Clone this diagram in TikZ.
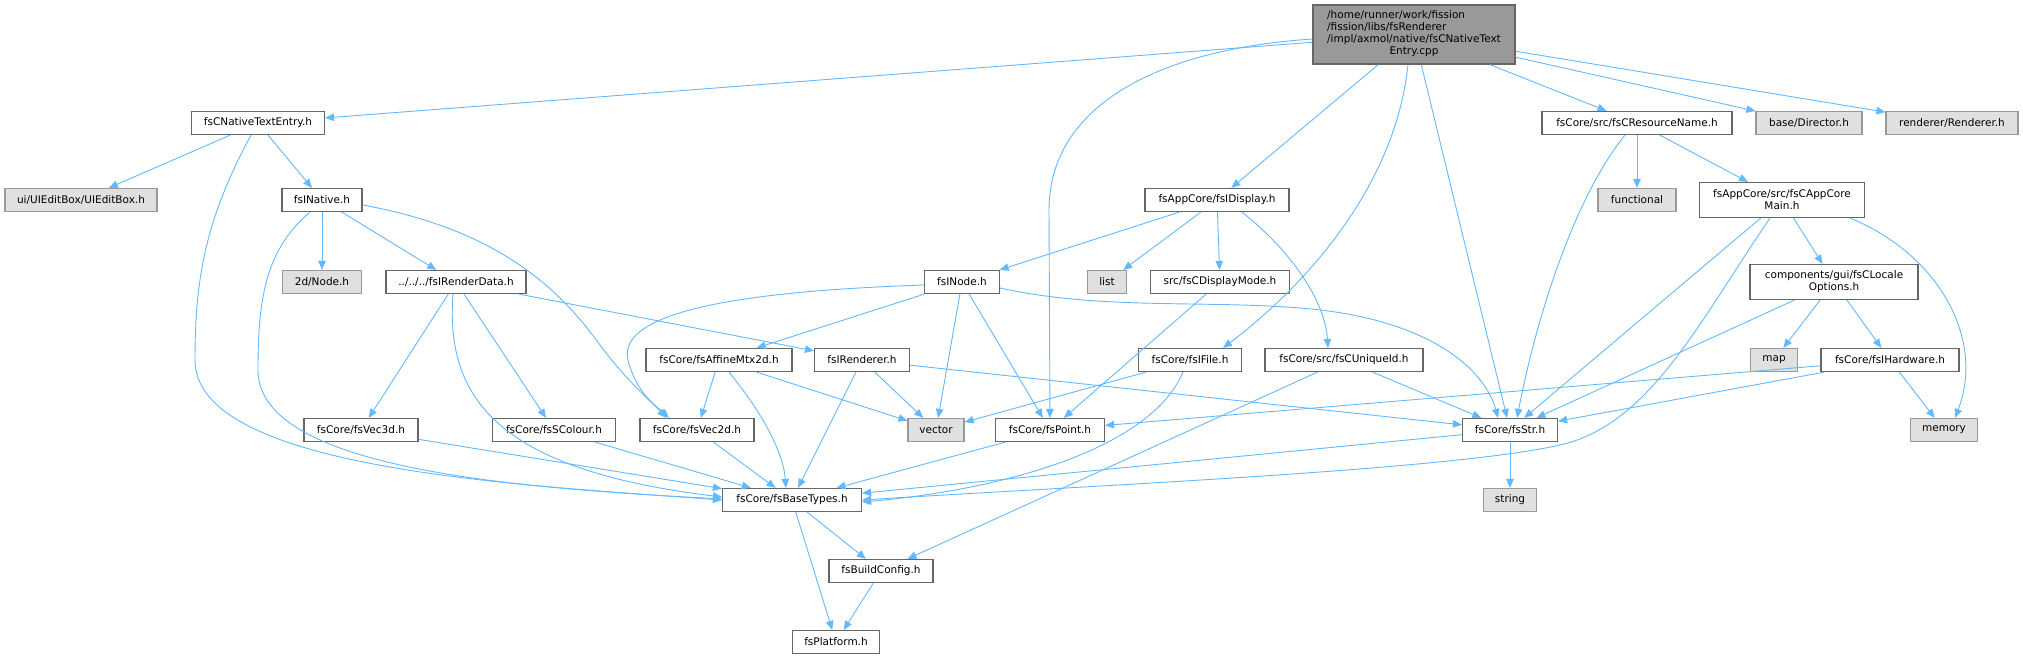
\documentclass[tikz,border=0pt]{standalone}
\usepackage{fontspec}
\setmainfont{DejaVu Sans}
\usetikzlibrary{arrows.meta}
\definecolor{edgeblue}{HTML}{63B8FF}
\definecolor{boxline}{HTML}{666666}
\definecolor{extline}{HTML}{999999}
\definecolor{extfill}{HTML}{E0E0E0}
\definecolor{mainfill}{HTML}{999999}
\tikzset{
  hdr/.style={draw=boxline, fill=white, line width=1.2pt, minimum height=23pt, inner sep=0pt, font=\fontsize{10.5}{12}\selectfont},
  ext/.style={hdr, draw=extline, fill=extfill},
  inc/.style={draw=edgeblue, line width=0.9pt, -{Triangle[length=9pt,width=7.5pt]}}
}
\begin{document}
\begin{tikzpicture}[x=1pt,y=-1pt]
  \useasboundingbox (0,0) rectangle (2023,659);
  % nodes
  \node [hdr, fill=mainfill, minimum width=202pt, minimum height=59pt] (main) at (1414,34.5)
    {\begin{tabular}{@{}l@{}}/home/runner/work/fission\\/fission/libs/fsRenderer\\/impl/axmol/native/fsCNativeText\\\multicolumn{1}{@{}c@{}}{Entry.cpp}\end{tabular}};
  \node [hdr, minimum width=133pt] (entry)     at (258,123)  {fsCNativeTextEntry.h};
  \node [ext, minimum width=152pt] (editbox)   at (81,200)   {ui/UIEditBox/UIEditBox.h};
  \node [hdr, minimum width=80pt]  (native)    at (322,200)  {fsINative.h};
  \node [ext, minimum width=79pt]  (node2d)    at (322,282)  {2d/Node.h};
  \node [hdr, minimum width=140pt] (renderdata) at (456,282) {../../../fsIRenderData.h};
  \node [hdr, minimum width=114pt] (vec3d)     at (361,430)  {fsCore/fsVec3d.h};
  \node [hdr, minimum width=123pt] (colour)    at (554,430)  {fsCore/fsSColour.h};
  \node [hdr, minimum width=114pt] (vec2d)     at (697,430)  {fsCore/fsVec2d.h};
  \node [hdr, minimum width=146pt] (affine)    at (719,360)  {fsCore/fsAffineMtx2d.h};
  \node [hdr, minimum width=95pt]  (irenderer) at (862,360)  {fsIRenderer.h};
  \node [ext, minimum width=56pt]  (vector)    at (936,430)  {vector};
  \node [hdr, minimum width=109pt] (point)     at (1050,430) {fsCore/fsPoint.h};
  \node [hdr, minimum width=139pt] (basetypes) at (792,500)  {fsCore/fsBaseTypes.h};
  \node [hdr, minimum width=104pt] (buildconfig) at (881,571) {fsBuildConfig.h};
  \node [hdr, minimum width=87pt]  (platform)  at (836,642)  {fsPlatform.h};
  \node [hdr, minimum width=144pt] (display)   at (1217,200) {fsAppCore/fsIDisplay.h};
  \node [hdr, minimum width=75pt]  (inode)     at (962,282)  {fsINode.h};
  \node [ext, minimum width=39pt]  (list)      at (1107,282) {list};
  \node [hdr, minimum width=139pt] (displaymode) at (1220,282) {src/fsCDisplayMode.h};
  \node [hdr, minimum width=103pt] (ifile)     at (1190,360) {fsCore/fsIFile.h};
  \node [hdr, minimum width=158pt] (uniqueid)  at (1344,360) {fsCore/src/fsCUniqueId.h};
  \node [hdr, minimum width=95pt]  (str)       at (1510,430) {fsCore/fsStr.h};
  \node [ext, minimum width=53pt]  (string)    at (1510,500) {string};
  \node [hdr, minimum width=190pt] (resname)   at (1637,123) {fsCore/src/fsCResourceName.h};
  \node [ext, minimum width=106pt] (director)  at (1809,123) {base/Director.h};
  \node [ext, minimum width=132pt] (renderer)  at (1952,123) {renderer/Renderer.h};
  \node [ext, minimum width=78pt]  (functional) at (1637,200) {functional};
  \node [hdr, minimum width=165pt, minimum height=35pt, align=center] (appcore) at (1782,200) {fsAppCore/src/fsCAppCore\\Main.h};
  \node [hdr, minimum width=168pt, minimum height=35pt, align=center] (locale) at (1834,282) {components/gui/fsCLocale\\Options.h};
  \node [ext, minimum width=47pt]  (map)       at (1774,360) {map};
  \node [hdr, minimum width=138pt] (hardware)  at (1890,360) {fsCore/fsIHardware.h};
  \node [ext, minimum width=67pt]  (memory)    at (1944,430) {memory};
  % main file
  \draw[inc] (main) -- (entry);
  \draw[inc] ([yshift=-4.5pt]main.west) .. controls (1150,50) and (1049,110) .. (1049,210) -- (point);
  \draw[inc] (main) -- (display);
  \draw[inc] ([xshift=-6pt]main.south) .. controls (1395,190) and (1300,290) .. ([xshift=33pt]ifile.north);
  \draw[inc] (main) -- (str);
  \draw[inc] (main) -- (resname);
  \draw[inc] (main) -- (director);
  \draw[inc] (main) -- (renderer);
  % left part
  \draw[inc] (entry) -- (editbox);
  \draw[inc] (entry) -- (native);
  \draw[inc] ([xshift=-7pt]entry.south) .. controls (205,220) and (195,280) .. (195,360) .. controls (195,470) and (520,485) .. (basetypes.west);
  \draw[inc] (native) -- (node2d);
  \draw[inc] (native) -- (renderdata);
  \draw[inc] ([xshift=-12pt]native.south) .. controls (265,250) and (258,300) .. (258,370) .. controls (258,470) and (520,488) .. ([yshift=1pt]basetypes.west);
  \draw[inc] ([yshift=-5pt]native.east) .. controls (500,230) and (560,290) .. (600,345) .. controls (630,385) and (655,405) .. ([xshift=-31pt]vec2d.north);
  \draw[inc] (renderdata) -- (vec3d);
  \draw[inc] (renderdata) -- (colour);
  \draw[inc] ([xshift=-3pt]renderdata.south) .. controls (445,400) and (500,470) .. ([yshift=3pt]basetypes.west);
  \draw[inc] (renderdata) -- (irenderer);
  \draw[inc] (vec3d) -- (basetypes);
  \draw[inc] (colour) -- (basetypes);
  \draw[inc] (vec2d) -- (basetypes);
  % middle part
  \draw[inc] (affine) -- (vec2d);
  \draw[inc] ([xshift=10pt]affine.south) .. controls (760,410) and (783,450) .. ([xshift=-6pt]basetypes.north);
  \draw[inc] (affine) -- (vector);
  \draw[inc] (irenderer) -- (vector);
  \draw[inc] (irenderer) -- (basetypes);
  \draw[inc] (irenderer) -- (str);
  \draw[inc] (inode) -- (affine);
  \draw[inc] (inode) -- (vector);
  \draw[inc] (inode) -- (point);
  \draw[inc] ([yshift=-6pt]inode.east) .. controls (1100,310) and (1200,300) .. (1300,308) .. controls (1430,318) and (1485,370) .. ([xshift=-12pt]str.north);
  \draw[inc] ([yshift=-3pt]inode.west) .. controls (780,290) and (615,305) .. (628,360) .. controls (636,392) and (655,405) .. ([xshift=-28pt]vec2d.north);
  \draw[inc] (display) -- (inode);
  \draw[inc] (display) -- (list);
  \draw[inc] (display) -- (displaymode);
  \draw[inc] ([xshift=25pt]display.south) .. controls (1290,250) and (1325,300) .. ([xshift=-16pt]uniqueid.north);
  \draw[inc] (displaymode) -- (point);
  \draw[inc] (ifile) -- (vector);
  \draw[inc] ([xshift=-7pt]ifile.south) .. controls (1150,450) and (1000,490) .. ([yshift=-2pt]basetypes.east);
  \draw[inc] (uniqueid) -- (buildconfig);
  \draw[inc] (uniqueid) -- (str);
  \draw[inc] (point) -- (basetypes);
  \draw[inc] (str) -- (basetypes);
  \draw[inc] (str) -- (string);
  % right part
  \draw[inc] (resname) -- (functional);
  \draw[inc] (resname) -- (appcore);
  \draw[inc] ([xshift=-12pt]resname.south) .. controls (1580,190) and (1540,300) .. ([xshift=7pt]str.north);
  \draw[inc] (appcore) -- (str);
  \draw[inc] (appcore) -- (locale);
  \draw[inc] ([xshift=-12pt]appcore.south) .. controls (1700,320) and (1650,425) .. (1560,445) .. controls (1450,470) and (1100,485) .. (basetypes.east);
  \draw[inc] ([xshift=-15pt]appcore.south east) .. controls (1940,255) and (1985,340) .. ([xshift=11pt]memory.north);
  \draw[inc] (locale) -- (map);
  \draw[inc] (locale) -- (hardware);
  \draw[inc] (locale) -- (str);
  \draw[inc] (hardware) -- (memory);
  \draw[inc] (hardware) -- (str);
  \draw[inc] (hardware) -- (point);
  % bottom
  \draw[inc] (basetypes) -- (buildconfig);
  \draw[inc] (basetypes) -- (platform);
  \draw[inc] (buildconfig) -- (platform);
\end{tikzpicture}
\end{document}
